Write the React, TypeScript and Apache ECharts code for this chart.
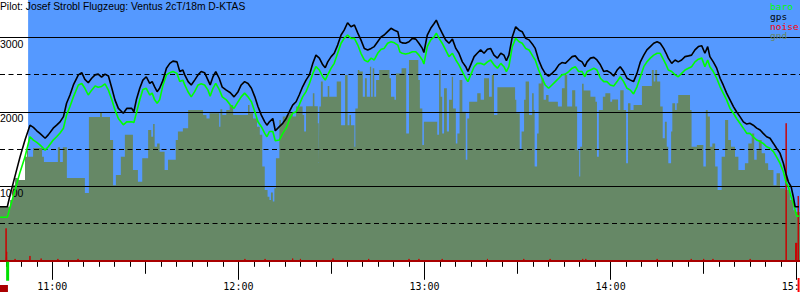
import React, { useEffect, useRef } from 'react';
import * as echarts from 'echarts';

const TITLE = 'Pilot: Josef Strobl Flugzeug: Ventus 2cT/18m D-KTAS';
// time axis in minutes of the day
const T_MIN = 643.14;
const T_MAX = 901.06;
const HOUR_TICKS = [660, 720, 780, 840, 900];
const HALF_TICKS = [690, 750, 810, 870];
const ALT_MAX = 3500;
const SKY_START = 652.2;
const TAKEOFF_T = 645.6;
const LANDING_T = 900.6;
const ENGINE_SPAN = [643.14, 645.7];
const LEGEND = ['baro', 'gps', 'noise', 'gnd'];

const TIME = [
  643.1, 645.5, 646.4, 648.0, 649.6, 651.2, 652.8, 653.9, 655.0, 656.0,
  657.7, 658.7, 660.3, 661.4, 662.5, 663.6, 664.6, 665.7, 666.8, 668.4,
  669.5, 670.5, 671.6, 672.7, 673.8, 674.8, 675.9, 677.0, 678.1, 679.2,
  680.2, 681.3, 682.9, 684.0, 685.6, 686.3, 687.1, 688.2, 689.2, 690.3,
  691.4, 692.2, 693.0, 693.8, 694.6, 695.7, 696.8, 697.9, 698.9, 700.2,
  701.1, 702.1, 702.7, 703.8, 704.8, 705.9, 707.0, 708.0, 709.1, 710.2,
  710.9, 711.8, 712.7, 713.8, 714.8, 716.1, 717.4, 718.6, 719.9, 720.9,
  722.0, 723.1, 724.2, 725.3, 726.3, 727.4, 728.5, 729.2, 730.0, 731.1,
  731.9, 733.2, 734.3, 735.4, 736.4, 737.5, 738.6, 739.6, 740.7, 741.8,
  742.9, 744.0, 745.0, 746.1, 747.2, 748.0, 748.8, 749.9, 750.9, 752.0,
  753.1, 754.1, 755.2, 756.3, 757.4, 758.5, 759.5, 760.6, 761.7, 762.8,
  763.8, 764.9, 766.0, 767.0, 768.1, 769.2, 770.3, 771.4, 772.1, 772.8,
  773.9, 775.0, 776.1, 777.2, 778.2, 779.3, 779.8, 780.9, 782.0, 783.1,
  783.8, 784.7, 785.7, 786.8, 787.9, 789.0, 790.1, 791.1, 792.2, 793.3,
  794.0, 794.9, 796.0, 797.0, 798.1, 799.2, 800.3, 801.3, 802.4, 803.5,
  804.6, 805.6, 806.4, 807.2, 808.3, 809.4, 810.5, 811.5, 812.6, 813.7,
  815.0, 815.7, 816.8, 817.9, 818.9, 820.0, 821.1, 822.2, 823.3, 824.3,
  825.4, 826.5, 827.6, 828.6, 829.7, 830.8, 831.7, 832.4, 833.5, 834.6,
  835.6, 836.7, 837.8, 838.8, 839.9, 841.0, 842.1, 843.1, 844.2, 845.3,
  846.4, 847.4, 848.5, 849.6, 850.7, 851.7, 852.8, 853.9, 855.0, 856.0,
  857.1, 857.9, 858.6, 859.7, 860.8, 861.8, 862.9, 864.0, 865.1, 866.1,
  867.2, 868.3, 869.4, 870.4, 871.3, 872.0, 873.1, 874.2, 875.3, 876.3,
  877.4, 878.5, 879.6, 880.6, 881.7, 882.8, 883.9, 884.9, 886.0, 887.1,
  888.2, 889.2, 890.3, 891.4, 892.5, 893.5, 894.6, 895.7, 896.5, 897.3,
  898.2, 898.9, 899.5, 900.0, 900.7,
];

const GPS = [
  725, 725, 885, 1140, 1395, 1620, 1820, 1790, 1745, 1710,
  1645, 1690, 1780, 1820, 1865, 1935, 2115, 2225, 2360, 2495,
  2525, 2435, 2390, 2450, 2495, 2505, 2465, 2505, 2480, 2315,
  2160, 2045, 1980, 2045, 2045, 2000, 2160, 2315, 2425, 2470,
  2380, 2405, 2335, 2270, 2315, 2425, 2585, 2650, 2680, 2670,
  2540, 2560, 2495, 2405, 2360, 2425, 2495, 2540, 2525, 2425,
  2360, 2470, 2540, 2450, 2330, 2290, 2255, 2200, 2270, 2360,
  2405, 2380, 2315, 2200, 2070, 1955, 1865, 1820, 1865, 1910,
  1745, 1800, 1845, 1910, 2000, 2090, 2135, 2225, 2335, 2425,
  2495, 2650, 2760, 2720, 2630, 2590, 2670, 2740, 2785, 2895,
  3030, 3095, 3195, 3140, 3165, 3055, 2965, 2850, 2830, 2850,
  2875, 2940, 3005, 3030, 3075, 3120, 3095, 3075, 2940, 2925,
  2920, 2940, 2985, 2975, 2920, 2850, 2795, 3030, 3120, 3185,
  3230, 3140, 3055, 2965, 2920, 2975, 2850, 2785, 2670, 2605,
  2540, 2630, 2740, 2785, 2830, 2785, 2840, 2850, 2760, 2720,
  2785, 2760, 2685, 2760, 3005, 3140, 3095, 3075, 2985, 2965,
  2895, 2850, 2695, 2585, 2515, 2480, 2515, 2560, 2630, 2660,
  2650, 2695, 2740, 2750, 2695, 2670, 2605, 2670, 2720, 2730,
  2695, 2630, 2540, 2550, 2525, 2480, 2560, 2605, 2540, 2450,
  2425, 2405, 2515, 2670, 2760, 2830, 2875, 2920, 2940, 2920,
  2850, 2785, 2720, 2650, 2695, 2670, 2695, 2740, 2750, 2760,
  2830, 2875, 2885, 2785, 2875, 2740, 2670, 2585, 2450, 2360,
  2250, 2160, 2070, 2000, 1935, 1865, 1835, 1845, 1820, 1780,
  1755, 1710, 1665, 1645, 1575, 1510, 1445, 1310, 1175, 1060,
  995, 860, 725, 725, 725,
];

const BARO = [
  585, 585, 720, 950, 1190, 1395, 1665, 1620, 1590, 1555,
  1485, 1530, 1620, 1665, 1715, 1780, 1955, 2070, 2200, 2360,
  2380, 2315, 2225, 2290, 2345, 2330, 2340, 2375, 2290, 2160,
  2025, 1910, 1825, 1865, 1865, 1855, 1980, 2160, 2300, 2315,
  2225, 2250, 2160, 2115, 2160, 2360, 2495, 2525, 2540, 2515,
  2405, 2425, 2360, 2265, 2200, 2270, 2360, 2375, 2360, 2290,
  2210, 2315, 2380, 2300, 2200, 2160, 2090, 2045, 2135, 2200,
  2250, 2200, 2135, 2000, 1865, 1800, 1710, 1665, 1735, 1735,
  1610, 1620, 1710, 1780, 1890, 1980, 2000, 2090, 2200, 2270,
  2380, 2515, 2605, 2560, 2470, 2425, 2495, 2585, 2650, 2785,
  2920, 2985, 3030, 2985, 2985, 2895, 2785, 2695, 2670, 2720,
  2695, 2785, 2840, 2850, 2920, 2940, 2925, 2895, 2800, 2785,
  2775, 2785, 2805, 2805, 2760, 2695, 2640, 2875, 2965, 3005,
  3055, 2985, 2920, 2830, 2740, 2785, 2695, 2630, 2540, 2450,
  2405, 2495, 2605, 2650, 2650, 2630, 2670, 2695, 2630, 2585,
  2650, 2605, 2540, 2605, 2875, 2985, 2940, 2920, 2850, 2830,
  2740, 2695, 2560, 2450, 2360, 2315, 2360, 2405, 2450, 2495,
  2505, 2540, 2585, 2605, 2540, 2540, 2470, 2540, 2560, 2585,
  2560, 2450, 2405, 2405, 2360, 2345, 2405, 2470, 2405, 2315,
  2290, 2240, 2335, 2470, 2605, 2670, 2720, 2760, 2785, 2785,
  2695, 2630, 2560, 2540, 2495, 2470, 2515, 2560, 2585, 2605,
  2670, 2705, 2720, 2605, 2695, 2605, 2540, 2450, 2335, 2250,
  2160, 2045, 1980, 1910, 1845, 1780, 1710, 1710, 1665, 1620,
  1600, 1575, 1530, 1510, 1465, 1395, 1310, 1195, 1060, 995,
  860, 775, 680, 600, 600,
];

const GND_T = [
  643.1, 646.4, 647.3, 648.0, 648.9, 651.2, 651.8, 652.2, 653.8, 656.7,
  657.3, 661.8, 662.5, 663.4, 664.7, 670.5, 671.8, 675.4, 676.0, 678.6,
  679.6, 680.5, 682.1, 683.4, 686.0, 687.6, 689.0, 690.9, 691.9, 692.5,
  693.0, 693.8, 694.6, 696.2, 697.3, 699.8, 700.5, 702.1, 703.8, 708.6,
  709.7, 710.7, 713.8, 714.2, 714.8, 716.1, 717.2, 718.3, 723.1, 723.6,
  724.7, 726.0, 726.9, 727.7, 728.5, 729.4, 730.0, 730.5, 731.1, 731.6,
  732.1, 733.2, 733.7, 734.3, 735.4, 736.4, 737.5, 738.6, 740.7, 741.2,
  741.8, 744.0, 744.5, 745.6, 745.9, 746.1, 746.6, 747.2, 748.8, 749.3,
  751.7, 753.1, 754.4, 755.2, 755.8, 756.3, 757.4, 757.7, 758.5, 759.0,
  760.1, 760.8, 761.4, 762.4, 762.8, 763.3, 763.8, 764.4, 765.4, 768.7,
  769.2, 770.3, 770.8, 772.6, 774.1, 775.0, 778.0, 778.5, 779.3, 779.8,
  784.1, 784.7, 785.2, 785.7, 786.3, 787.2, 787.9, 788.8, 789.2, 790.1,
  790.6, 791.3, 792.2, 793.3, 793.8, 794.4, 797.0, 798.1, 799.2, 800.8,
  801.7, 802.4, 803.5, 809.2, 809.6, 810.7, 811.3, 812.1, 812.6, 813.7,
  814.7, 815.2, 815.5, 816.3, 816.8, 817.7, 818.4, 819.2, 820.0, 823.0,
  824.3, 825.2, 826.0, 827.6, 828.6, 829.2, 829.9, 830.2, 830.8, 831.3,
  833.5, 835.1, 835.6, 836.2, 837.5, 838.3, 839.9, 840.5, 842.4, 843.1,
  844.2, 845.0, 845.6, 846.4, 847.4, 850.1, 853.3, 853.9, 854.4, 855.0,
  856.0, 856.8, 857.5, 858.1, 858.6, 859.5, 859.9, 860.8, 861.3, 861.8,
  865.6, 866.1, 867.8, 869.9, 870.7, 871.3, 872.0, 872.8, 873.7, 874.5,
  875.8, 876.9, 877.9, 878.8, 880.1, 881.2, 883.3, 884.4, 885.5, 886.3,
  887.1, 887.8, 888.7, 889.8, 890.8, 892.5, 893.5, 894.6, 896.2, 897.8,
  898.9, 899.7, 901.1,
];

const GND = [
  725, 815, 1015, 1110, 1085, 1395, 1485, 1395, 1515, 1395,
  1325, 1525, 1325, 1525, 1110, 910, 1930, 1985, 1930, 1620,
  1015, 1150, 1395, 1690, 1220, 1060, 1375, 1755, 1665, 1835,
  1530, 1575, 1465, 1220, 1355, 1620, 1735, 1780, 2025, 1955,
  1910, 1980, 1800, 2035, 1955, 2025, 2090, 1955, 2090, 1980,
  1910, 1800, 1690, 1265, 950, 860, 815, 915, 795, 975,
  1375, 1890, 1825, 1935, 1955, 1980, 1935, 2070, 1955, 1735,
  2075, 2250, 2075, 1845, 1310, 2070, 2405, 2200, 2345, 2200,
  2405, 1820, 2495, 1820, 1955, 1820, 1530, 2045, 2560, 2540,
  2200, 2450, 2200, 2605, 2200, 2585, 2200, 2425, 2560, 2450,
  2200, 2160, 2515, 2585, 1710, 2695, 2425, 2045, 1555, 1865,
  1690, 2560, 2200, 1710, 2315, 1735, 2160, 2470, 2045, 1575,
  1710, 2425, 2000, 1355, 1910, 2135, 2250, 2160, 2450, 2200,
  2495, 1955, 2330, 2160, 1980, 1485, 1735, 2160, 2405, 1955,
  2250, 2025, 1265, 1710, 2380, 2450, 2160, 2225, 2135, 2070,
  2315, 2495, 2070, 2290, 2070, 1485, 1130, 1530, 2375, 2285,
  2200, 2135, 1395, 2025, 2200, 2250, 2135, 2165, 2025, 2290,
  2025, 1310, 2115, 2025, 2090, 2345, 2560, 2405, 2560, 2405,
  2070, 1645, 1865, 1530, 1310, 1735, 2115, 2025, 2115, 2225,
  2025, 1530, 1555, 1265, 2025, 1935, 1530, 1575, 1265, 950,
  1395, 1890, 1620, 1530, 1395, 1220, 1310, 1575, 1710, 1355,
  1485, 1620, 1445, 1310, 1220, 1015, 1175, 975, 950, 815,
  680, 655, 655,
];

const NOISE_T = [
  645.1, 645.3, 648.0, 652.8, 656.4, 661.8, 668.3, 722.1, 728.6, 737.5,
  740.0, 750.5, 762.0, 775.0, 778.2, 785.7, 800.3, 812.0, 820.5, 831.0,
  832.0, 855.0, 866.0, 870.0, 873.0, 885.0, 896.6, 899.7, 900.0, 900.5,
];
const NOISE_V = [
  435, 120, 25, 65, 30, 25, 25, 25, 25, 30,
  25, 30, 25, 25, 25, 25, 25, 25, 25, 25,
  25, 25, 25, 25, 25, 25, 1845, 240, 240, 870,
];

const COLORS = {
  sky: '#5599ff',
  gnd: '#668866',
  baro: '#00ff00',
  gps: '#000000',
  noise: '#cc0000',
  noiseBase: '#aa0000',
  legendNoise: '#ff0000',
};

const fmtTime = (v: number) => {
  const h = Math.floor(v / 60);
  const m = Math.round(v - h * 60);
  return `${h}:${String(m).padStart(2, '0')}`;
};

export default function App() {
  const ref = useRef<HTMLDivElement>(null);

  useEffect(() => {
    document.body.style.margin = '0';
    const chart = echarts.init(ref.current!, null, { renderer: 'svg' });

    const fiveMin: number[] = [];
    for (let t = Math.ceil(T_MIN / 5) * 5; t <= T_MAX; t += 5) fiveMin.push(t);

    const gpsData = TIME.map((t, i) => [t, GPS[i]]);
    const baroData = TIME.map((t, i) => [t, BARO[i]]);
    const gndData = GND_T.map((t, i) => [t, GND[i]]);
    const noiseData: number[][] = [[T_MIN, 0]];
    NOISE_T.forEach((t, i) => {
      noiseData.push([t - 0.04, 0], [t, NOISE_V[i]], [t + 0.04, 0]);
    });
    noiseData.push([T_MAX, 0]);

    const baseX = {
      type: 'value',
      min: T_MIN,
      max: T_MAX,
      position: 'bottom',
      axisLine: { show: false, onZero: false },
      splitLine: { show: false },
    };
    const tickStyle = { color: '#000', width: 1 };

    const option: any = {
      animation: false,
      backgroundColor: '#ffffff',
      grid: {
        left: 0,
        right: 0,
        top: 0,
        bottom: 39.2,
        containLabel: false,
        outerBoundsMode: 'none',
      },
      xAxis: [
        {
          ...baseX,
          axisTick: { show: true, customValues: HOUR_TICKS, length: 19, lineStyle: tickStyle },
          axisLabel: {
            show: true,
            customValues: HOUR_TICKS,
            formatter: fmtTime,
            margin: 19.5,
            fontFamily: 'DejaVu Sans Mono',
            fontSize: 10,
            color: '#000',
            lineHeight: 12,
            verticalAlign: 'top',
          },
        },
        {
          ...baseX,
          axisTick: { show: true, customValues: HALF_TICKS, length: 13, lineStyle: tickStyle },
          axisLabel: { show: false },
        },
        {
          ...baseX,
          axisTick: { show: true, customValues: fiveMin, length: 6, lineStyle: tickStyle },
          axisLabel: { show: false },
        },
      ],
      yAxis: [
        {
          type: 'value',
          min: 0,
          max: ALT_MAX,
          interval: 500,
          position: 'left',
          z: 3,
          axisLine: { show: false },
          axisTick: { show: false },
          axisLabel: { show: false },
          splitLine: {
            show: true,
            showMinLine: false,
            showMaxLine: false,
            lineStyle: { color: '#000', width: 1, type: [5, 3.5] },
          },
        },
        {
          type: 'value',
          min: 0,
          max: ALT_MAX,
          interval: 1000,
          position: 'left',
          z: 3,
          axisLine: { show: false },
          axisTick: { show: false },
          axisLabel: {
            show: true,
            inside: true,
            margin: 0,
            formatter: (v: number) => (v > 0 && v <= 3000 ? String(v) : ''),
            fontFamily: 'Liberation Sans',
            fontSize: 10.5,
            color: '#000',
            verticalAlign: 'top',
            lineHeight: 13,
          },
          splitLine: {
            show: true,
            showMinLine: false,
            showMaxLine: false,
            lineStyle: { color: '#000', width: 1, type: 'solid' },
          },
        },
      ],
      series: [
        {
          name: 'sky',
          type: 'line',
          data: [[SKY_START, ALT_MAX], [T_MAX, ALT_MAX]],
          symbol: 'none',
          lineStyle: { width: 0 },
          areaStyle: { color: COLORS.sky, opacity: 1 },
          z: 1,
          silent: true,
        },
        {
          name: 'gnd',
          type: 'line',
          step: 'end',
          data: gndData,
          symbol: 'none',
          lineStyle: { width: 0 },
          itemStyle: { color: COLORS.gnd },
          areaStyle: { color: COLORS.gnd, opacity: 1 },
          z: 2,
          silent: true,
        },
        {
          name: 'noise',
          type: 'line',
          data: noiseData,
          symbol: 'none',
          lineStyle: { width: 1, color: COLORS.noise },
          itemStyle: { color: COLORS.noise },
          z: 4,
          silent: true,
          markLine: {
            silent: true,
            symbol: 'none',
            label: { show: false },
            lineStyle: { color: COLORS.noiseBase, width: 2, type: 'solid' },
            data: [{ yAxis: 0 }],
          },
        },
        {
          name: 'baro',
          type: 'line',
          data: baroData,
          symbol: 'none',
          lineStyle: { width: 1.6, color: COLORS.baro },
          itemStyle: { color: COLORS.baro },
          z: 5,
          silent: true,
        },
        {
          name: 'gps',
          type: 'line',
          data: gpsData,
          symbol: 'none',
          lineStyle: { width: 1.6, color: COLORS.gps },
          itemStyle: { color: COLORS.gps },
          z: 6,
          silent: true,
        },
      ],
    };

    chart.setOption(option);

    const px = (t: number) => chart.convertToPixel({ xAxisIndex: 0 }, t) as number;
    const yBase = chart.convertToPixel({ yAxisIndex: 0 }, 0) as number;
    const legendColors = [COLORS.baro, COLORS.gps, COLORS.legendNoise, COLORS.gnd];
    const legendY = [6.7, 16.4, 26.1, 35.8];

    const elements: any[] = [
      {
        type: 'text',
        x: 0,
        y: 6.9,
        z: 100,
        style: {
          text: TITLE,
          fill: '#000',
          fontFamily: 'Liberation Sans',
          fontSize: 10.3,
          verticalAlign: 'middle',
          align: 'left',
        },
      },
      ...LEGEND.map((name, i) => ({
        type: 'text',
        x: 770,
        y: legendY[i],
        z: 100,
        style: {
          text: name,
          fill: legendColors[i],
          fontFamily: 'DejaVu Sans Mono',
          fontSize: 9.5,
          verticalAlign: 'middle',
          align: 'left',
        },
      })),
      {
        type: 'rect',
        z: 100,
        shape: { x: px(ENGINE_SPAN[0]), y: 285, width: px(ENGINE_SPAN[1]) - px(ENGINE_SPAN[0]), height: 7 },
        style: { fill: COLORS.noiseBase },
      },
      {
        type: 'rect',
        z: 100,
        shape: { x: px(TAKEOFF_T) - 1.5, y: yBase + 1, width: 3, height: 19 },
        style: { fill: '#00e000' },
      },
      {
        type: 'rect',
        z: 100,
        shape: { x: px(LANDING_T) - 1, y: 278, width: 2, height: 14 },
        style: { fill: '#ff0000' },
      },
    ];
    chart.setOption({ graphic: { elements } });

    return () => chart.dispose();
  }, []);

  return (
    <div
      ref={ref}
      style={{ position: 'absolute', left: 0, top: 0, width: 800, height: 300 }}
    />
  );
}
